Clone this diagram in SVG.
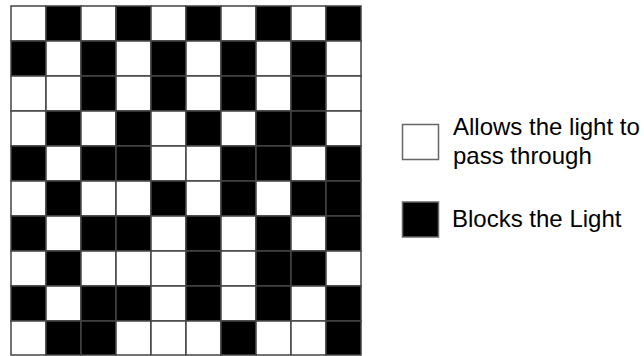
<svg xmlns="http://www.w3.org/2000/svg" width="644" height="356" viewBox="0 0 644 356">
<style>
.w{fill:#fff;stroke:#444;stroke-width:1.5}
.b{fill:#000;stroke:#444;stroke-width:1.5}
.t{font-family:"Liberation Sans",Arial,sans-serif;font-size:24px;fill:#000}
</style>
<rect width="644" height="356" fill="#fff"/>
<g id="grid">
<!-- row 0 -->
<rect class="w" x="11" y="6" width="35" height="35"/><rect class="b" x="46" y="6" width="35" height="35"/><rect class="w" x="81" y="6" width="35" height="35"/><rect class="b" x="116" y="6" width="35" height="35"/><rect class="w" x="151" y="6" width="35" height="35"/><rect class="b" x="186" y="6" width="35" height="35"/><rect class="w" x="221" y="6" width="35" height="35"/><rect class="b" x="256" y="6" width="35" height="35"/><rect class="w" x="291" y="6" width="35" height="35"/><rect class="b" x="326" y="6" width="35" height="35"/>
<!-- row 1 -->
<rect class="b" x="11" y="41" width="35" height="35"/><rect class="w" x="46" y="41" width="35" height="35"/><rect class="b" x="81" y="41" width="35" height="35"/><rect class="w" x="116" y="41" width="35" height="35"/><rect class="b" x="151" y="41" width="35" height="35"/><rect class="w" x="186" y="41" width="35" height="35"/><rect class="b" x="221" y="41" width="35" height="35"/><rect class="w" x="256" y="41" width="35" height="35"/><rect class="b" x="291" y="41" width="35" height="35"/><rect class="w" x="326" y="41" width="35" height="35"/>
<!-- row 2 -->
<rect class="w" x="11" y="76" width="35" height="35"/><rect class="w" x="46" y="76" width="35" height="35"/><rect class="b" x="81" y="76" width="35" height="35"/><rect class="w" x="116" y="76" width="35" height="35"/><rect class="b" x="151" y="76" width="35" height="35"/><rect class="w" x="186" y="76" width="35" height="35"/><rect class="b" x="221" y="76" width="35" height="35"/><rect class="w" x="256" y="76" width="35" height="35"/><rect class="b" x="291" y="76" width="35" height="35"/><rect class="w" x="326" y="76" width="35" height="35"/>
<!-- row 3 -->
<rect class="w" x="11" y="111" width="35" height="35"/><rect class="b" x="46" y="111" width="35" height="35"/><rect class="w" x="81" y="111" width="35" height="35"/><rect class="b" x="116" y="111" width="35" height="35"/><rect class="w" x="151" y="111" width="35" height="35"/><rect class="b" x="186" y="111" width="35" height="35"/><rect class="w" x="221" y="111" width="35" height="35"/><rect class="b" x="256" y="111" width="35" height="35"/><rect class="b" x="291" y="111" width="35" height="35"/><rect class="w" x="326" y="111" width="35" height="35"/>
<!-- row 4 -->
<rect class="b" x="11" y="146" width="35" height="35"/><rect class="w" x="46" y="146" width="35" height="35"/><rect class="b" x="81" y="146" width="35" height="35"/><rect class="b" x="116" y="146" width="35" height="35"/><rect class="w" x="151" y="146" width="35" height="35"/><rect class="w" x="186" y="146" width="35" height="35"/><rect class="b" x="221" y="146" width="35" height="35"/><rect class="b" x="256" y="146" width="35" height="35"/><rect class="w" x="291" y="146" width="35" height="35"/><rect class="b" x="326" y="146" width="35" height="35"/>
<!-- row 5 -->
<rect class="w" x="11" y="181" width="35" height="35"/><rect class="b" x="46" y="181" width="35" height="35"/><rect class="w" x="81" y="181" width="35" height="35"/><rect class="w" x="116" y="181" width="35" height="35"/><rect class="b" x="151" y="181" width="35" height="35"/><rect class="w" x="186" y="181" width="35" height="35"/><rect class="b" x="221" y="181" width="35" height="35"/><rect class="w" x="256" y="181" width="35" height="35"/><rect class="b" x="291" y="181" width="35" height="35"/><rect class="b" x="326" y="181" width="35" height="35"/>
<!-- row 6 -->
<rect class="b" x="11" y="216" width="35" height="35"/><rect class="w" x="46" y="216" width="35" height="35"/><rect class="b" x="81" y="216" width="35" height="35"/><rect class="b" x="116" y="216" width="35" height="35"/><rect class="w" x="151" y="216" width="35" height="35"/><rect class="b" x="186" y="216" width="35" height="35"/><rect class="w" x="221" y="216" width="35" height="35"/><rect class="b" x="256" y="216" width="35" height="35"/><rect class="w" x="291" y="216" width="35" height="35"/><rect class="b" x="326" y="216" width="35" height="35"/>
<!-- row 7 -->
<rect class="w" x="11" y="251" width="35" height="35"/><rect class="b" x="46" y="251" width="35" height="35"/><rect class="w" x="81" y="251" width="35" height="35"/><rect class="w" x="116" y="251" width="35" height="35"/><rect class="w" x="151" y="251" width="35" height="35"/><rect class="b" x="186" y="251" width="35" height="35"/><rect class="w" x="221" y="251" width="35" height="35"/><rect class="b" x="256" y="251" width="35" height="35"/><rect class="b" x="291" y="251" width="35" height="35"/><rect class="w" x="326" y="251" width="35" height="35"/>
<!-- row 8 -->
<rect class="b" x="11" y="286" width="35" height="35"/><rect class="w" x="46" y="286" width="35" height="35"/><rect class="b" x="81" y="286" width="35" height="35"/><rect class="b" x="116" y="286" width="35" height="35"/><rect class="w" x="151" y="286" width="35" height="35"/><rect class="b" x="186" y="286" width="35" height="35"/><rect class="w" x="221" y="286" width="35" height="35"/><rect class="b" x="256" y="286" width="35" height="35"/><rect class="w" x="291" y="286" width="35" height="35"/><rect class="b" x="326" y="286" width="35" height="35"/>
<!-- row 9 -->
<rect class="w" x="11" y="321" width="35" height="34"/><rect class="b" x="46" y="321" width="35" height="34"/><rect class="b" x="81" y="321" width="35" height="34"/><rect class="w" x="116" y="321" width="35" height="34"/><rect class="w" x="151" y="321" width="35" height="34"/><rect class="w" x="186" y="321" width="35" height="34"/><rect class="b" x="221" y="321" width="35" height="34"/><rect class="w" x="256" y="321" width="35" height="34"/><rect class="w" x="291" y="321" width="35" height="34"/><rect class="b" x="326" y="321" width="35" height="34"/>
</g>
<g id="legend-pass">
<rect x="402.5" y="124.5" width="36" height="35" fill="#fff" stroke="#666" stroke-width="1.5"/>
<text class="t" x="453" y="135">Allows the light to</text>
<text class="t" x="453" y="164">pass through</text>
</g>
<g id="legend-block">
<rect x="402.5" y="202" width="36" height="35" fill="#000" stroke="#666" stroke-width="1.5"/>
<text class="t" x="452" y="227">Blocks the Light</text>
</g>
</svg>
